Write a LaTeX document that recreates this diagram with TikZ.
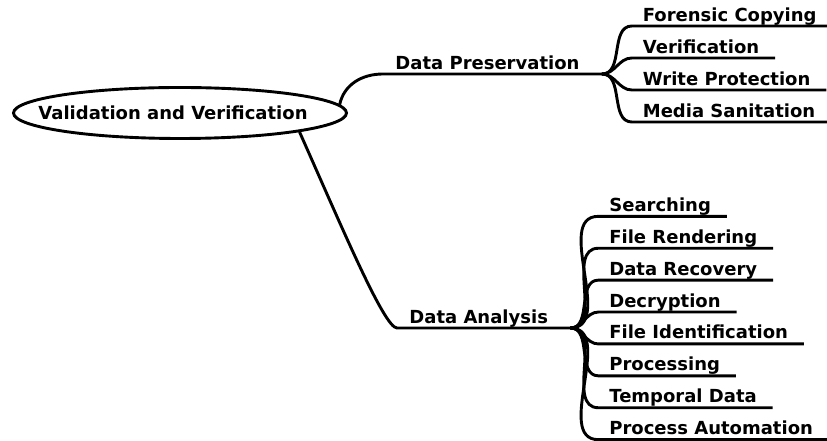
\documentclass[tikz,border=0pt]{standalone}
\usepackage{fontspec}
\setmainfont{DejaVu Sans}
\usetikzlibrary{calc, positioning, shapes.geometric}

\begin{document}
\begin{tikzpicture}[x=1pt,y=1pt,line width=2.9pt,
        font=\fontsize{18}{21}\selectfont\bfseries,
        topic/.style={anchor=south west,inner xsep=11pt,inner ysep=3.5pt,text depth=0pt},
        leaf/.style={anchor=south west,inner xsep=9.5pt,inner ysep=3.5pt,text depth=0pt}]
            \useasboundingbox (0,0) rectangle (827,441);
            \node[draw,ellipse,minimum width=333pt,minimum height=51pt,inner xsep=-40pt,inner ysep=0pt] (root) at (180,328) {Validation and Verification\hspace*{14pt}};
            \node[topic] (dp) at (383,367) {Data Preservation};
            \node[topic] (da) at (397,113) {Data Analysis};
            \coordinate[right=10pt of dp.south east] (dpj);
            \coordinate[right=10pt of da.south east] (daj);
            \draw (root.3) to[out=78,in=180] (dp.south west) -- (dpj);
            \draw (root.-9) to[out=-66,in=180,out looseness=1.2,in looseness=0.15] (da.south west) -- (daj);
            \foreach \lbl [count=\i] in {Forensic Copying,Verification,Write Protection,Media Sanitation}{
                \node[leaf] (dp\i) at ($(dpj)+(30,{80-32*\i})$) {\lbl};
                \draw (dpj) to[out=0,in=180] (dp\i.south west) -- ([xshift=5pt]dp\i.south east);
            }
            \foreach \lbl [count=\i] in {Searching,File Rendering,Data Recovery,Decryption,File Identification,Processing,Temporal Data,Process Automation}{
                \node[leaf] (da\i) at ($(daj)+(28,{(4.5-\i)*31.9})$) {\lbl};
                \draw (daj) to[out=0,in=180] (da\i.south west) -- ([xshift=5pt]da\i.south east);
            }
        \end{tikzpicture}
\end{document}
